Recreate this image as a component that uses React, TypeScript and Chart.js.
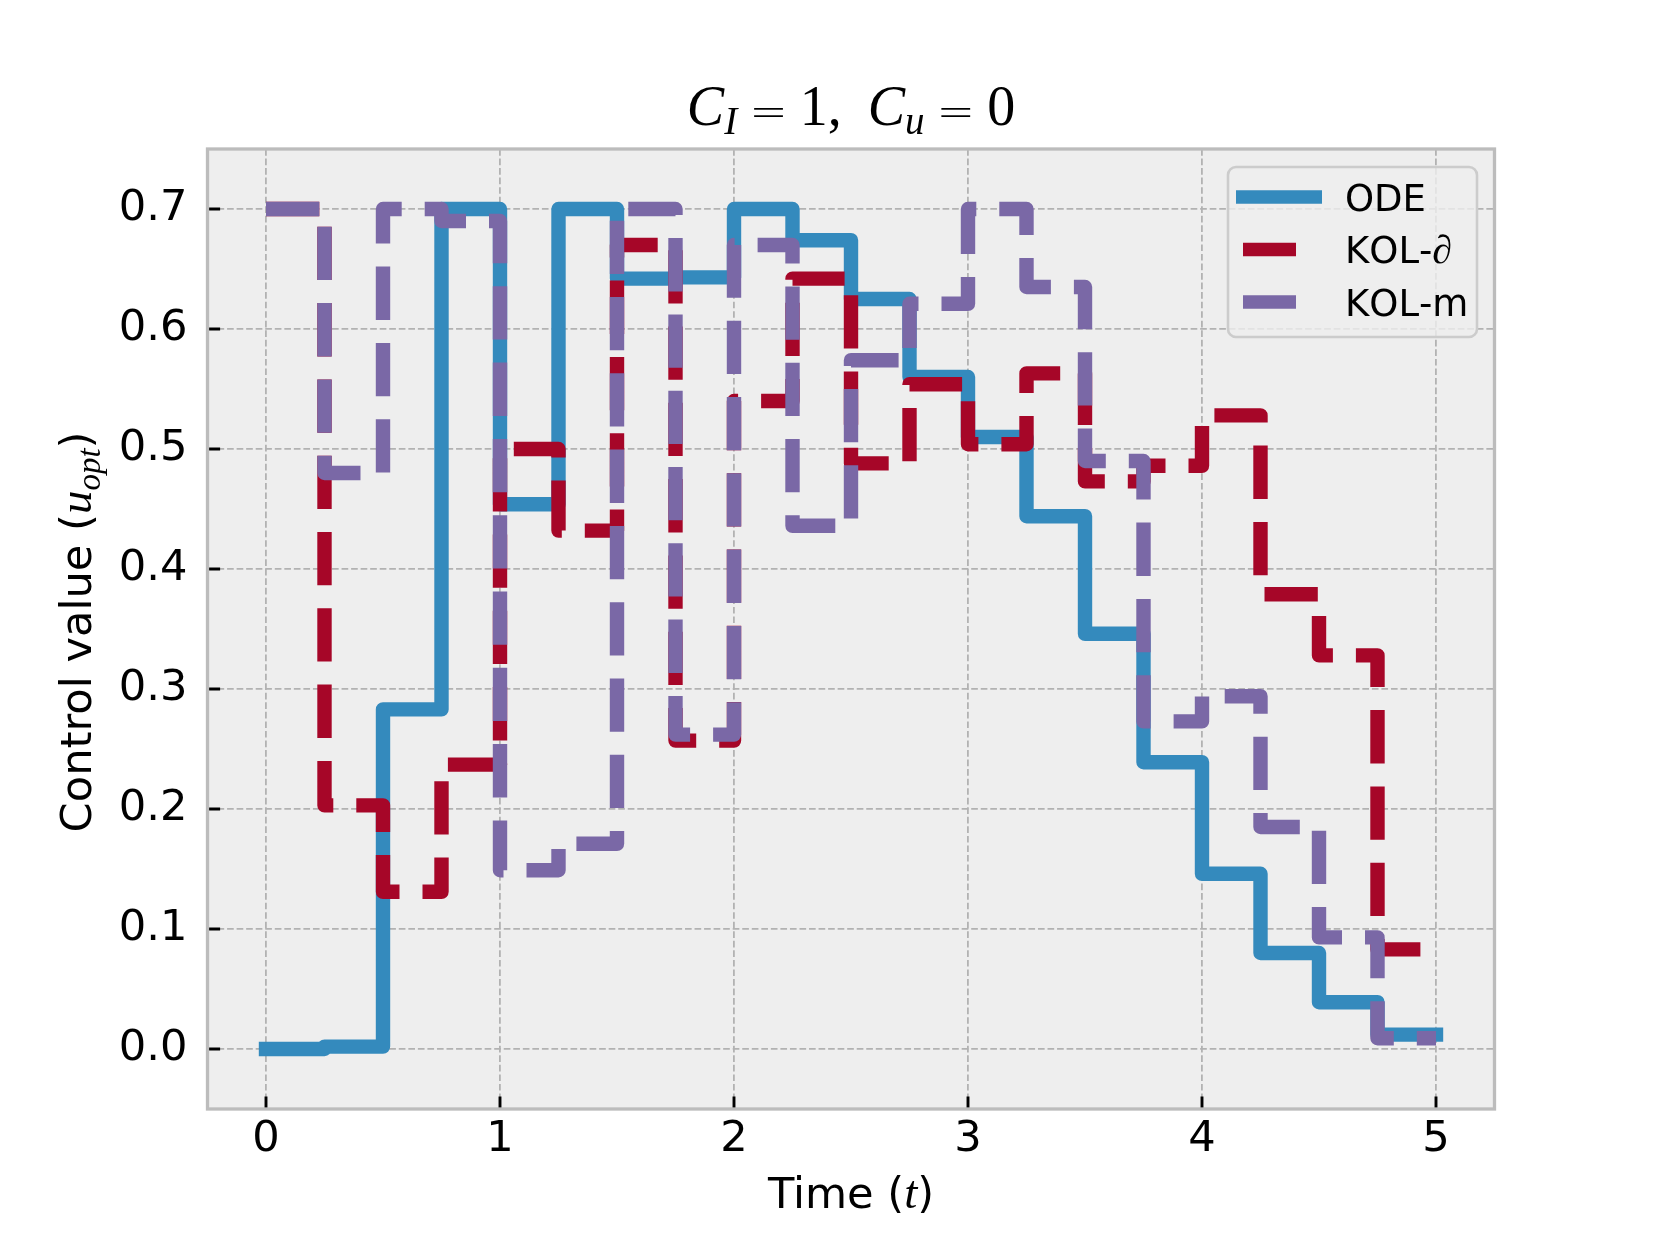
import React, { useEffect, useRef } from "react";
import { Chart, registerables } from "chart.js";

Chart.register(...registerables);

// ---------------- data ----------------
const timePoints = [0, 0.25, 0.5, 0.75, 1, 1.25, 1.5, 1.75, 2, 2.25, 2.5, 2.75, 3, 3.25, 3.5, 3.75, 4, 4.25, 4.5, 4.75, 5];
const odeValues = [0.0, 0.002, 0.283, 0.7, 0.454, 0.7, 0.642, 0.643, 0.7, 0.674, 0.625, 0.56, 0.51, 0.444, 0.346, 0.239, 0.146, 0.08, 0.039, 0.012, 0.012];
const kolPartialValues = [0.7, 0.203, 0.131, 0.237, 0.5, 0.432, 0.67, 0.257, 0.54, 0.642, 0.488, 0.554, 0.504, 0.563, 0.473, 0.486, 0.528, 0.379, 0.328, 0.083, 0.083];
const kolMValues = [0.7, 0.48, 0.7, 0.69, 0.149, 0.171, 0.7, 0.262, 0.67, 0.436, 0.574, 0.621, 0.7, 0.635, 0.49, 0.273, 0.294, 0.185, 0.093, 0.009, 0.009];
const seriesNames = ["ODE", "KOL-∂", "KOL-m"];
const xTickValues = [0, 1, 2, 3, 4, 5];
const yTickValues = [0.0, 0.1, 0.2, 0.3, 0.4, 0.5, 0.6, 0.7];

// ---------------- styles ----------------
const COLORS = ["#348ABD", "#A60628", "#7A68A6"];
const LINE_W = 14.4;
const DASH = [53.3, 23.0];
const SANS = "'DejaVu Sans', sans-serif";
const MATH = "'Liberation Serif', 'DejaVu Serif', serif";

type Seg = { text?: string; font?: string; dy?: number; gap?: number };

function segsWidth(ctx: CanvasRenderingContext2D, segs: Seg[]) {
  let w = 0;
  for (const s of segs) {
    if (s.gap) w += s.gap;
    if (s.text) {
      ctx.font = s.font!;
      w += ctx.measureText(s.text).width;
    }
  }
  return w;
}

function drawSegs(ctx: CanvasRenderingContext2D, segs: Seg[], x: number, y: number, align: "center" | "left") {
  const total = segsWidth(ctx, segs);
  let cx = align === "center" ? x - total / 2 : x;
  ctx.textAlign = "left";
  ctx.textBaseline = "alphabetic";
  for (const s of segs) {
    if (s.gap) cx += s.gap;
    if (s.text) {
      ctx.font = s.font!;
      ctx.fillText(s.text, cx, y + (s.dy || 0));
      cx += ctx.measureText(s.text).width;
    }
  }
}

const EQ_FONT = `300 46px 'DejaVu Sans', sans-serif`;

const titleSegs: Seg[] = [
  { text: "C", font: `italic 56px ${MATH}` },
  { text: "I", font: `italic 39px ${MATH}`, dy: 9 },
  { gap: 12 },
  { text: "=", font: EQ_FONT, dy: 2 },
  { gap: 12 },
  { text: "1", font: `56px ${MATH}` },
  { text: ",", font: `56px ${MATH}` },
  { gap: 26 },
  { text: "C", font: `italic 56px ${MATH}` },
  { text: "u", font: `italic 39px ${MATH}`, dy: 9 },
  { gap: 12 },
  { text: "=", font: EQ_FONT, dy: 2 },
  { gap: 12 },
  { text: "0", font: `56px ${MATH}` },
];

const yLabelSegs: Seg[] = [
  { text: "Control value (", font: `43.2px ${SANS}` },
  { text: "u", font: `italic 47px ${MATH}` },
  { text: "opt", font: `italic 33px ${MATH}`, dy: 9 },
  { text: ")", font: `43.2px ${SANS}` },
];

const xLabelSegs: Seg[] = [
  { text: "Time (", font: `43.2px ${SANS}` },
  { text: "t", font: `italic 47px ${MATH}` },
  { text: ")", font: `43.2px ${SANS}` },
];

function legendSegs(name: string): Seg[] {
  const out: Seg[] = [];
  for (const ch of name) {
    if (ch === "∂") out.push({ text: ch, font: `italic 40px ${MATH}` });
    else out.push({ text: ch, font: `37px ${SANS}` });
  }
  return out;
}

function roundRect(ctx: CanvasRenderingContext2D, x: number, y: number, w: number, h: number, r: number) {
  ctx.beginPath();
  ctx.moveTo(x + r, y);
  ctx.lineTo(x + w - r, y);
  ctx.arcTo(x + w, y, x + w, y + r, r);
  ctx.lineTo(x + w, y + h - r);
  ctx.arcTo(x + w, y + h, x + w - r, y + h, r);
  ctx.lineTo(x + r, y + h);
  ctx.arcTo(x, y + h, x, y + h - r, r);
  ctx.lineTo(x, y + r);
  ctx.arcTo(x, y, x + r, y, r);
  ctx.closePath();
}

const decorPlugin = {
  id: "decor",
  beforeDraw(chart: any) {
    const { ctx, chartArea: ca } = chart;
    ctx.save();
    ctx.fillStyle = "#ffffff";
    ctx.fillRect(0, 0, chart.width, chart.height);
    ctx.fillStyle = "#eeeeee";
    ctx.fillRect(ca.left, ca.top, ca.right - ca.left, ca.bottom - ca.top);
    ctx.restore();
  },
  beforeDatasetsDraw(chart: any) {
    const { ctx, chartArea: ca, scales } = chart;
    ctx.save();
    ctx.strokeStyle = "#000000";
    ctx.lineWidth = 2.9;
    ctx.setLineDash([]);
    ctx.beginPath();
    for (const v of xTickValues) {
      const px = scales.x.getPixelForValue(v);
      ctx.moveTo(px, ca.bottom);
      ctx.lineTo(px, ca.bottom - 12.6);
    }
    for (const v of yTickValues) {
      const py = scales.y.getPixelForValue(v);
      ctx.moveTo(ca.left, py);
      ctx.lineTo(ca.left + 12.6, py);
    }
    ctx.stroke();
    ctx.restore();
  },
  afterDatasetsDraw(chart: any) {
    const { ctx, chartArea: ca } = chart;
    ctx.save();
    ctx.strokeStyle = "#bcbcbc";
    ctx.lineWidth = 3.3;
    ctx.setLineDash([]);
    ctx.strokeRect(ca.left, ca.top, ca.right - ca.left, ca.bottom - ca.top);
    ctx.restore();
  },
  afterDraw(chart: any) {
    const { ctx, chartArea: ca } = chart;
    ctx.save();
    ctx.fillStyle = "#000000";
    const cxp = (ca.left + ca.right) / 2;
    const cyp = (ca.top + ca.bottom) / 2;
    // title
    drawSegs(ctx, titleSegs, cxp, ca.top - 24, "center");
    // x label
    drawSegs(ctx, xLabelSegs, cxp, ca.bottom + 99, "center");
    // y label
    ctx.save();
    ctx.translate(ca.left - 117, cyp + 3);
    ctx.rotate(-Math.PI / 2);
    drawSegs(ctx, yLabelSegs, 0, 0, "center");
    ctx.restore();

    // legend
    const lw = 249;
    const lh = 170;
    const lx = ca.right - 17.5 - lw;
    const ly = ca.top + 18;
    roundRect(ctx, lx, ly, lw, lh, 8);
    ctx.fillStyle = "rgba(238,238,238,0.8)";
    ctx.fill();
    ctx.strokeStyle = "#cccccc";
    ctx.lineWidth = 2.6;
    ctx.stroke();
    seriesNames.forEach((name, i) => {
      const yy = ly + 30 + i * 52.5;
      ctx.strokeStyle = COLORS[i];
      ctx.lineWidth = 13.5;
      ctx.lineCap = "butt";
      ctx.setLineDash([]);
      ctx.beginPath();
      if (i === 0) {
        ctx.moveTo(lx + 8, yy);
        ctx.lineTo(lx + 94, yy);
      } else {
        ctx.moveTo(lx + 15, yy);
        ctx.lineTo(lx + 68, yy);
      }
      ctx.stroke();
      ctx.fillStyle = "#000000";
      drawSegs(ctx, legendSegs(name), lx + 117, yy + 13.5, "left");
    });
    ctx.restore();
  },
};

export default function App() {
  const canvasRef = useRef<HTMLCanvasElement | null>(null);

  useEffect(() => {
    const canvas = canvasRef.current;
    if (!canvas) return;
    const valueSets = [odeValues, kolPartialValues, kolMValues];
    const datasets = seriesNames.map((name, i) => ({
      label: name,
      data: timePoints.map((t, k) => ({ x: t, y: valueSets[i][k] })),
      borderColor: COLORS[i],
      backgroundColor: COLORS[i],
      borderWidth: LINE_W,
      borderDash: i === 0 ? [] : DASH,
      borderCapStyle: i === 0 ? "square" : "butt",
      borderJoinStyle: "round",
      stepped: "before",
      pointRadius: 0,
      pointHoverRadius: 0,
      fill: false,
      tension: 0,
      order: 3 - i,
    }));

    const chart = new Chart(canvas, {
      type: "line",
      data: { datasets } as any,
      options: {
        animation: false,
        responsive: false,
        devicePixelRatio: 1,
        events: [],
        layout: { padding: { top: 149, right: 165.5, bottom: 0, left: 0 } },
        plugins: {
          legend: { display: false },
          tooltip: { enabled: false },
          title: { display: false },
        },
        scales: {
          x: {
            type: "linear",
            min: -0.25,
            max: 5.25,
            afterBuildTicks: (s: any) => {
              s.ticks = xTickValues.map((v) => ({ value: v }));
            },
            afterFit: (s: any) => {
              s.height = 136;
            },
            grid: { color: "#b2b2b2", lineWidth: 1.8, drawTicks: false },
            border: { display: false, dash: [6.66, 2.88] },
            ticks: {
              color: "#000000",
              font: { family: "'DejaVu Sans'", size: 43.2 },
              padding: 5,
              maxRotation: 0,
              autoSkip: false,
              callback: (v: any) => String(v),
            },
          },
          y: {
            type: "linear",
            min: -0.05,
            max: 0.75,
            afterBuildTicks: (s: any) => {
              s.ticks = yTickValues.map((v) => ({ value: v }));
            },
            afterFit: (s: any) => {
              s.width = 207.5;
            },
            grid: { color: "#b2b2b2", lineWidth: 1.8, drawTicks: false },
            border: { display: false, dash: [6.66, 2.88] },
            ticks: {
              color: "#000000",
              font: { family: "'DejaVu Sans'", size: 43.2 },
              padding: 20,
              autoSkip: false,
              callback: (v: any) => Number(v).toFixed(1),
            },
          },
        },
      } as any,
      plugins: [decorPlugin],
    });
    return () => chart.destroy();
  }, []);

  return (
    <div style={{ position: "absolute", left: 0, top: 0, width: 1660, height: 1245, background: "#ffffff" }}>
      <canvas ref={canvasRef} width={1660} height={1245} style={{ display: "block", width: 1660, height: 1245 }} />
    </div>
  );
}
